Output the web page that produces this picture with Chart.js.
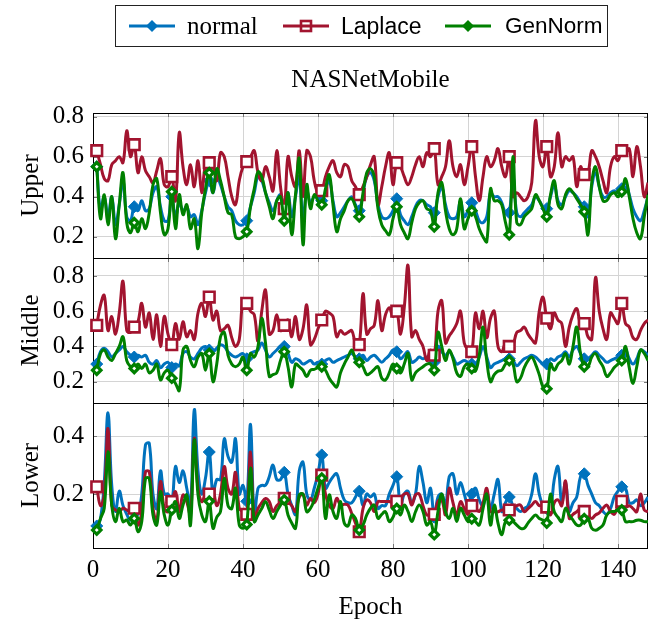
<!DOCTYPE html>
<html>
<head>
<meta charset="utf-8">
<script src="https://cdn.jsdelivr.net/npm/chart.js@4.4.1/dist/chart.umd.min.js"></script>
<style>
body{margin:0;background:#fff;}
#wrap{position:relative;width:649px;height:620px;font-family:"Liberation Serif",serif;color:#000;}
#legend{position:absolute;left:115px;top:5px;width:493px;height:42px;border:1px solid #222;box-sizing:border-box;}
.item{position:absolute;top:0;height:40px;line-height:40px;font-size:25px;white-space:nowrap;}
.item svg{position:absolute;top:10px;}
#title{position:absolute;left:93px;width:555px;top:64px;text-align:center;font-size:25px;line-height:30px;}
</style>
</head>
<body>
<div id="wrap">
<canvas id="chart" width="649" height="620"></canvas>
<div id="legend">
  <div class="item" style="left:13px"><svg width="46" height="20"><line x1="0" y1="10" x2="46" y2="10" stroke="#0072BD" stroke-width="3"/><polygon points="17,10 23,4 29,10 23,16" fill="#0072BD"/></svg><span style="position:absolute;left:58px">normal</span></div>
  <div class="item" style="left:167px"><svg width="46" height="20"><rect x="18" y="5" width="10" height="10" fill="#fff" stroke="#A2142F" stroke-width="2.6"/><line x1="0" y1="10" x2="46" y2="10" stroke="#A2142F" stroke-width="3"/></svg><span style="position:absolute;left:58px;font-family:'Liberation Sans',sans-serif;font-size:23px">Laplace</span></div>
  <div class="item" style="left:329px"><svg width="46" height="20"><line x1="0" y1="10" x2="46" y2="10" stroke="#008000" stroke-width="3"/><polygon points="17,10 23,4 29,10 23,16" fill="#008000"/></svg><span style="position:absolute;left:60px;font-family:'Liberation Sans',sans-serif;font-size:22.5px">GenNorm</span></div>
</div>
<div id="title">NASNetMobile</div>
</div>
<script>
// epochs 1..148, a marker every 10 epochs
let epochs=Array.from({length:148},(_,i)=>i+1);
let xTicks=[0,20,40,60,80,100,120,140];
let upperTicks=[0.2,0.4,0.6,0.8];
let middleTicks=[0.2,0.4,0.6,0.8];
let lowerTicks=[0.2,0.4];

let upperNormal=[0.55,0.33,0.40,0.30,0.40,0.26,0.36,0.48,0.30,0.28,
0.35,0.33,0.38,0.33,0.34,0.42,0.45,0.35,0.28,0.28,
0.40,0.30,0.37,0.33,0.35,0.30,0.31,0.26,0.33,0.42,
0.48,0.42,0.50,0.46,0.40,0.35,0.33,0.28,0.26,0.26,
0.28,0.35,0.42,0.50,0.48,0.42,0.37,0.33,0.38,0.41,
0.34,0.42,0.30,0.40,0.50,0.28,0.43,0.37,0.40,0.40,
0.38,0.44,0.48,0.38,0.30,0.32,0.35,0.38,0.40,0.36,
0.33,0.42,0.50,0.52,0.48,0.36,0.30,0.29,0.30,0.33,
0.39,0.31,0.28,0.26,0.30,0.35,0.38,0.38,0.36,0.35,
0.32,0.40,0.45,0.36,0.30,0.29,0.30,0.38,0.30,0.33,
0.37,0.33,0.28,0.27,0.30,0.42,0.40,0.40,0.37,0.32,
0.32,0.50,0.32,0.30,0.32,0.34,0.36,0.40,0.38,0.35,
0.34,0.40,0.46,0.38,0.36,0.40,0.43,0.42,0.40,0.37,
0.35,0.30,0.45,0.52,0.45,0.40,0.40,0.42,0.43,0.42,
0.44,0.47,0.41,0.34,0.30,0.28,0.33,0.40];
let upperLaplace=[0.63,0.56,0.49,0.48,0.56,0.58,0.60,0.57,0.73,0.60,
0.66,0.52,0.60,0.53,0.50,0.47,0.53,0.59,0.46,0.45,
0.50,0.38,0.72,0.55,0.46,0.56,0.45,0.58,0.42,0.56,
0.57,0.55,0.48,0.62,0.60,0.50,0.40,0.36,0.48,0.55,
0.575,0.60,0.63,0.52,0.48,0.55,0.50,0.43,0.63,0.45,
0.34,0.60,0.50,0.45,0.63,0.40,0.63,0.60,0.48,0.42,
0.43,0.50,0.55,0.58,0.52,0.50,0.56,0.55,0.48,0.45,
0.41,0.45,0.50,0.56,0.60,0.36,0.45,0.55,0.62,0.46,
0.57,0.55,0.50,0.46,0.50,0.56,0.60,0.55,0.62,0.60,
0.64,0.46,0.50,0.55,0.68,0.55,0.50,0.56,0.46,0.55,
0.65,0.50,0.38,0.50,0.60,0.55,0.58,0.64,0.55,0.50,
0.60,0.40,0.42,0.40,0.38,0.40,0.47,0.78,0.60,0.55,
0.65,0.50,0.55,0.72,0.55,0.60,0.58,0.60,0.45,0.55,
0.51,0.52,0.63,0.60,0.55,0.48,0.42,0.55,0.60,0.58,
0.63,0.62,0.64,0.50,0.65,0.55,0.40,0.47];
let upperGenNorm=[0.55,0.29,0.41,0.26,0.40,0.19,0.36,0.52,0.27,0.22,
0.27,0.225,0.29,0.24,0.32,0.46,0.49,0.32,0.21,0.24,
0.425,0.24,0.41,0.31,0.36,0.24,0.29,0.14,0.32,0.44,
0.52,0.42,0.54,0.48,0.40,0.32,0.31,0.20,0.19,0.20,
0.225,0.35,0.44,0.525,0.50,0.42,0.35,0.29,0.38,0.40,
0.28,0.42,0.21,0.41,0.59,0.16,0.46,0.34,0.41,0.38,
0.36,0.44,0.51,0.36,0.225,0.29,0.33,0.38,0.39,0.35,
0.30,0.42,0.52,0.54,0.50,0.34,0.26,0.23,0.21,0.29,
0.35,0.26,0.22,0.19,0.27,0.34,0.37,0.38,0.34,0.33,
0.25,0.42,0.47,0.33,0.24,0.21,0.24,0.39,0.24,0.29,
0.33,0.30,0.24,0.20,0.175,0.44,0.38,0.38,0.36,0.27,
0.21,0.60,0.27,0.26,0.30,0.32,0.34,0.41,0.38,0.34,
0.30,0.41,0.48,0.36,0.34,0.41,0.44,0.42,0.39,0.36,
0.325,0.21,0.47,0.55,0.45,0.38,0.38,0.41,0.42,0.40,
0.425,0.49,0.40,0.29,0.22,0.19,0.30,0.41];

let middleNormal=[0.30,0.37,0.39,0.37,0.34,0.36,0.38,0.40,0.37,0.35,
0.34,0.35,0.34,0.35,0.31,0.30,0.32,0.28,0.30,0.31,
0.28,0.30,0.29,0.36,0.37,0.34,0.33,0.36,0.39,0.40,
0.38,0.37,0.39,0.41,0.40,0.37,0.35,0.34,0.35,0.36,
0.33,0.36,0.37,0.38,0.42,0.38,0.34,0.36,0.38,0.40,
0.40,0.36,0.31,0.33,0.32,0.30,0.31,0.32,0.30,0.31,
0.30,0.32,0.33,0.31,0.32,0.33,0.34,0.35,0.36,0.34,
0.33,0.35,0.32,0.34,0.35,0.33,0.31,0.33,0.35,0.38,
0.37,0.33,0.35,0.37,0.31,0.32,0.34,0.33,0.34,0.33,
0.31,0.40,0.37,0.35,0.37,0.34,0.30,0.31,0.32,0.31,
0.30,0.30,0.34,0.40,0.34,0.28,0.30,0.31,0.32,0.33,
0.33,0.32,0.29,0.31,0.33,0.34,0.35,0.34,0.32,0.30,
0.30,0.33,0.32,0.34,0.35,0.37,0.34,0.38,0.40,0.36,
0.33,0.33,0.35,0.37,0.35,0.33,0.31,0.32,0.33,0.34,
0.35,0.38,0.33,0.30,0.33,0.38,0.37,0.35];
let middleLaplace=[0.52,0.635,0.69,0.49,0.57,0.47,0.59,0.77,0.49,0.48,
0.51,0.54,0.645,0.51,0.59,0.44,0.58,0.40,0.57,0.47,
0.41,0.53,0.44,0.54,0.455,0.49,0.44,0.59,0.645,0.57,
0.68,0.55,0.60,0.49,0.50,0.52,0.45,0.40,0.44,0.66,
0.645,0.60,0.58,0.43,0.60,0.72,0.47,0.49,0.58,0.49,
0.52,0.55,0.455,0.57,0.44,0.50,0.635,0.41,0.44,0.50,
0.55,0.60,0.59,0.57,0.455,0.49,0.47,0.48,0.49,0.42,
0.41,0.70,0.47,0.50,0.52,0.66,0.49,0.58,0.62,0.57,
0.60,0.47,0.62,0.86,0.455,0.49,0.44,0.40,0.32,0.38,
0.35,0.60,0.66,0.42,0.46,0.49,0.53,0.60,0.42,0.38,
0.37,0.59,0.50,0.60,0.45,0.56,0.60,0.40,0.37,0.42,
0.40,0.41,0.48,0.49,0.51,0.47,0.44,0.42,0.60,0.68,
0.56,0.50,0.59,0.55,0.53,0.40,0.51,0.58,0.615,0.53,
0.53,0.455,0.44,0.79,0.60,0.50,0.44,0.59,0.56,0.53,
0.645,0.53,0.51,0.45,0.44,0.49,0.53,0.55];
let middleGenNorm=[0.265,0.36,0.38,0.34,0.32,0.36,0.40,0.455,0.32,0.285,
0.275,0.30,0.275,0.30,0.25,0.265,0.30,0.21,0.25,0.265,
0.22,0.19,0.15,0.38,0.40,0.32,0.285,0.34,0.36,0.265,
0.36,0.20,0.30,0.455,0.48,0.35,0.30,0.285,0.30,0.34,
0.265,0.36,0.34,0.40,0.56,0.42,0.23,0.24,0.25,0.32,
0.37,0.285,0.17,0.30,0.285,0.265,0.23,0.265,0.27,0.28,
0.285,0.265,0.22,0.19,0.17,0.25,0.30,0.34,0.38,0.33,
0.31,0.285,0.24,0.25,0.27,0.285,0.22,0.21,0.25,0.30,
0.275,0.25,0.30,0.36,0.21,0.25,0.27,0.285,0.30,0.30,
0.265,0.48,0.40,0.32,0.38,0.33,0.25,0.23,0.285,0.30,
0.275,0.26,0.35,0.51,0.32,0.20,0.24,0.26,0.265,0.30,
0.32,0.30,0.20,0.22,0.28,0.32,0.34,0.30,0.24,0.17,
0.16,0.30,0.265,0.30,0.32,0.36,0.30,0.40,0.51,0.36,
0.285,0.285,0.34,0.36,0.32,0.285,0.23,0.25,0.28,0.30,
0.32,0.40,0.28,0.19,0.285,0.38,0.36,0.32];

let lowerNormal=[0.09,0.115,0.24,0.48,0.23,0.14,0.21,0.16,0.13,0.11,
0.15,0.13,0.20,0.37,0.375,0.20,0.15,0.28,0.20,0.20,
0.17,0.295,0.24,0.28,0.22,0.16,0.49,0.28,0.20,0.255,
0.345,0.20,0.25,0.25,0.39,0.33,0.31,0.39,0.20,0.23,
0.175,0.44,0.12,0.22,0.23,0.23,0.26,0.30,0.25,0.25,
0.275,0.20,0.16,0.13,0.28,0.31,0.20,0.18,0.22,0.27,
0.335,0.22,0.24,0.26,0.27,0.22,0.18,0.17,0.17,0.19,
0.21,0.16,0.20,0.19,0.20,0.15,0.16,0.16,0.20,0.23,
0.26,0.16,0.20,0.21,0.17,0.20,0.295,0.24,0.17,0.22,
0.12,0.19,0.20,0.16,0.26,0.27,0.20,0.24,0.20,0.16,
0.20,0.22,0.18,0.16,0.21,0.15,0.20,0.25,0.14,0.17,
0.19,0.16,0.15,0.14,0.15,0.16,0.20,0.27,0.20,0.16,
0.15,0.15,0.25,0.295,0.17,0.24,0.14,0.17,0.19,0.26,
0.27,0.23,0.20,0.17,0.16,0.14,0.13,0.15,0.19,0.21,
0.225,0.22,0.17,0.17,0.18,0.16,0.17,0.19];
let lowerLaplace=[0.225,0.16,0.20,0.426,0.16,0.145,0.139,0.151,0.145,0.139,
0.151,0.093,0.139,0.277,0.277,0.151,0.105,0.243,0.151,0.139,
0.174,0.208,0.139,0.197,0.174,0.128,0.392,0.22,0.174,0.197,
0.20,0.21,0.16,0.20,0.295,0.22,0.20,0.275,0.15,0.14,
0.13,0.345,0.116,0.15,0.17,0.185,0.174,0.14,0.16,0.17,
0.185,0.174,0.16,0.14,0.19,0.20,0.162,0.185,0.17,0.20,
0.265,0.20,0.16,0.15,0.185,0.162,0.165,0.162,0.133,0.10,
0.07,0.15,0.18,0.17,0.14,0.174,0.174,0.174,0.174,0.17,
0.175,0.185,0.20,0.20,0.162,0.197,0.20,0.16,0.128,0.13,
0.13,0.175,0.18,0.128,0.22,0.17,0.128,0.174,0.15,0.13,
0.16,0.151,0.14,0.17,0.22,0.14,0.139,0.139,0.145,0.145,
0.145,0.151,0.16,0.162,0.139,0.15,0.162,0.174,0.16,0.16,
0.155,0.128,0.17,0.18,0.16,0.245,0.116,0.13,0.139,0.15,
0.14,0.128,0.116,0.128,0.135,0.151,0.162,0.14,0.13,0.16,
0.175,0.155,0.16,0.15,0.139,0.20,0.145,0.139];
let lowerGenNorm=[0.076,0.116,0.151,0.346,0.162,0.105,0.151,0.105,0.11,0.093,
0.116,0.07,0.105,0.254,0.254,0.128,0.093,0.208,0.128,0.093,
0.145,0.174,0.116,0.162,0.197,0.093,0.386,0.197,0.128,0.105,
0.175,0.082,0.12,0.14,0.254,0.16,0.15,0.22,0.093,0.082,
0.095,0.29,0.105,0.128,0.15,0.174,0.145,0.116,0.14,0.162,
0.18,0.128,0.10,0.082,0.197,0.20,0.139,0.151,0.18,0.22,
0.255,0.116,0.197,0.14,0.116,0.174,0.10,0.09,0.128,0.116,
0.076,0.093,0.128,0.151,0.162,0.116,0.13,0.139,0.105,0.12,
0.15,0.128,0.162,0.14,0.105,0.139,0.162,0.14,0.093,0.105,
0.06,0.14,0.20,0.14,0.116,0.151,0.105,0.151,0.128,0.105,
0.115,0.105,0.093,0.15,0.20,0.093,0.162,0.10,0.06,0.105,
0.11,0.105,0.093,0.082,0.082,0.10,0.116,0.128,0.116,0.11,
0.10,0.20,0.139,0.12,0.105,0.151,0.128,0.11,0.093,0.093,
0.115,0.116,0.082,0.075,0.082,0.093,0.128,0.139,0.14,0.145,
0.145,0.105,0.105,0.105,0.11,0.11,0.105,0.105];

const FONT="Liberation Serif";
const BLUE="#0072BD", RED="#A2142F", GREEN="#008000";

function marked(r){
return ctx=>(epochs[ctx.dataIndex]-1)%10===0 ? r : 0;
}

function series(vals,yID,kind){

let d={
data:vals.map((v,i)=>({x:epochs[i],y:v})),
yAxisID:yID,
borderWidth:3,
tension:0.4,
fill:false,
clip:{left:10,right:0,top:2,bottom:2}
};

if(kind=="normal"){
Object.assign(d,{borderColor:BLUE,pointStyle:"rectRot",pointRadius:marked(6),
pointBackgroundColor:BLUE,pointBorderColor:BLUE,pointBorderWidth:1,order:3});
}
if(kind=="laplace"){
Object.assign(d,{borderColor:RED,pointStyle:"rect",pointRadius:marked(7.5),
pointBackgroundColor:"#fff",pointBorderColor:RED,pointBorderWidth:2.6,order:2});
}
if(kind=="gennorm"){
Object.assign(d,{borderColor:GREEN,pointStyle:"rectRot",pointRadius:marked(4.2),
pointBackgroundColor:"#fff",pointBorderColor:GREEN,pointBorderWidth:3.2,order:1});
}
return d;
}

function yScale(title,min,max,ticks){
return {
type:"linear",position:"left",stack:"panels",stackWeight:1,
min,max,
afterBuildTicks:s=>{s.ticks=ticks.map(v=>({value:v}));},
afterFit:s=>{s.width=93;},
grid:{color:"#d4d4d4",lineWidth:1,drawTicks:false},
border:{display:false},
ticks:{font:{family:FONT,size:25},color:"#000",padding:9,autoSkip:false,callback:v=>v.toFixed(1)},
title:{display:true,text:title,color:"#000",font:{family:FONT,size:25,lineHeight:1.2},padding:{top:16,bottom:0}}
};
}

// black frame round each panel plus pgfplots style tick marks
const framePlugin={
id:"frame",
beforeDatasetsDraw(chart){
let {ctx,chartArea:a,scales}=chart;
ctx.save();
["yUp","yMid","yLow"].forEach(id=>{
let s=scales[id];
ctx.strokeStyle="#777";
ctx.lineWidth=1;
ctx.beginPath();
s.ticks.forEach(t=>{
let y=Math.round(s.getPixelForValue(t.value))+0.5;
ctx.moveTo(a.left,y);ctx.lineTo(a.left+4,y);
ctx.moveTo(a.right,y);ctx.lineTo(a.right-4,y);
});
scales.x.ticks.forEach(t=>{
let x=Math.round(scales.x.getPixelForValue(t.value))+0.5;
ctx.moveTo(x,s.top);ctx.lineTo(x,s.top+4);
ctx.moveTo(x,s.bottom);ctx.lineTo(x,s.bottom-4);
});
ctx.stroke();
ctx.strokeStyle="#000";
ctx.strokeRect(Math.round(a.left)+0.5,Math.round(s.top)+0.5,Math.round(a.right-a.left)-1,Math.round(s.bottom-s.top));
});
ctx.restore();
}
};

new Chart(document.getElementById("chart"),{
type:"line",
data:{
datasets:[
series(upperNormal,"yUp","normal"),
series(upperLaplace,"yUp","laplace"),
series(upperGenNorm,"yUp","gennorm"),
series(middleNormal,"yMid","normal"),
series(middleLaplace,"yMid","laplace"),
series(middleGenNorm,"yMid","gennorm"),
series(lowerNormal,"yLow","normal"),
series(lowerLaplace,"yLow","laplace"),
series(lowerGenNorm,"yLow","gennorm")
]
},
options:{
responsive:false,
animation:false,
events:[],
layout:{autoPadding:false,padding:{top:113,right:1,left:0,bottom:0}},
plugins:{legend:{display:false},tooltip:{enabled:false}},
scales:{
x:{
type:"linear",position:"bottom",min:0,max:148,
afterBuildTicks:s=>{s.ticks=xTicks.map(v=>({value:v}));},
afterFit:s=>{s.height=72;s.paddingRight=0;s.paddingLeft=0;},
grid:{color:"#d4d4d4",lineWidth:1,drawTicks:false},
border:{display:false},
ticks:{font:{family:FONT,size:25},color:"#000",padding:7,maxRotation:0,autoSkip:false},
title:{display:true,text:"Epoch",color:"#000",font:{family:FONT,size:25,lineHeight:1},padding:{top:0,bottom:0}}
},
yLow:yScale("Lower",0.014,0.514,lowerTicks),
yMid:yScale("Middle",0.079,0.902,middleTicks),
yUp:yScale("Upper",0.0935,0.8185,upperTicks)
}
},
plugins:[framePlugin]
});
</script>
</body>
</html>
